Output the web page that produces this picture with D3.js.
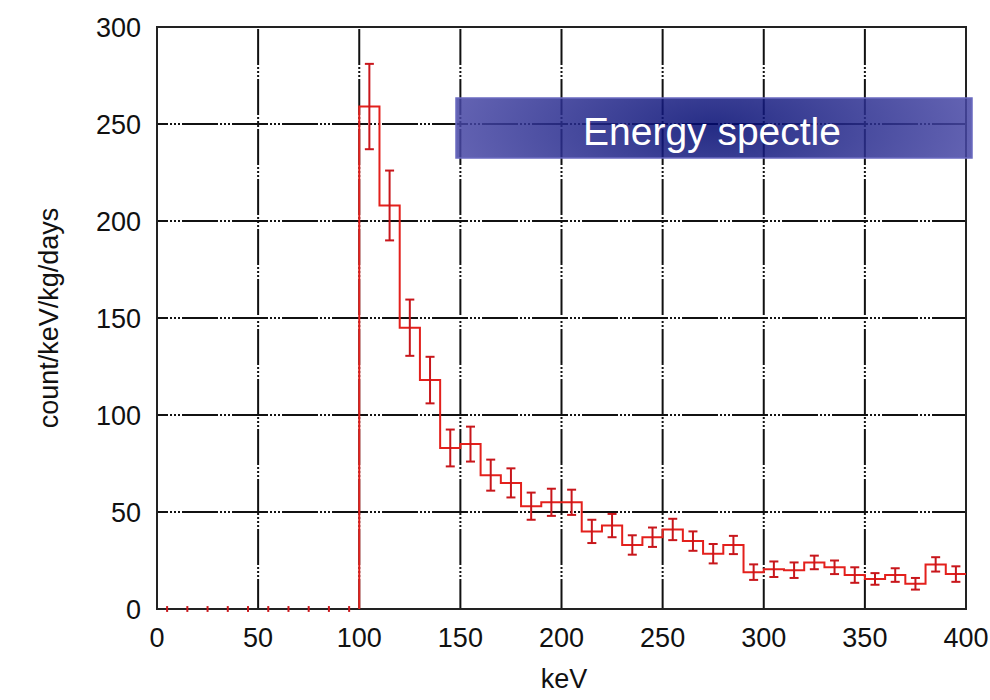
<!DOCTYPE html>
<meta charset="utf-8">
<script src="https://d3js.org/d3.v7.min.js"></script>
<style>
  body { margin: 0; background: #fff; }
  text { font-family: "Liberation Sans", Arial, sans-serif; }
</style>
<div id="my_dataviz"></div>
<script>

// bins of 10 keV (lower edge), counts and errors
var binLow = [0, 10, 20, 30, 40, 50, 60, 70, 80, 90,
              100, 110, 120, 130, 140, 150, 160, 170, 180, 190,
              200, 210, 220, 230, 240, 250, 260, 270, 280, 290,
              300, 310, 320, 330, 340, 350, 360, 370, 380, 390];
var counts = [0, 0, 0, 0, 0, 0, 0, 0, 0, 0,
              259, 208, 145, 118, 83, 85, 69, 65, 53, 55,
              55, 40, 43, 33, 37, 41, 35, 28.5, 33, 19,
              20.5, 20, 24, 21.5, 17.5, 15.5, 17.5, 13, 23, 18];
var errors = [1.5, 1.5, 1.5, 1.5, 1.5, 1.5, 1.5, 1.5, 1.5, 1.5,
              22, 18, 14.5, 12, 9.5, 9, 8, 7.5, 7, 7,
              6.5, 6, 6, 5, 5, 5.5, 5, 5, 4.7, 4,
              4, 4, 3.5, 3.5, 4, 3, 3.5, 3, 3.7, 4];
var binWidth = 10;

var xTicks = [0, 50, 100, 150, 200, 250, 300, 350, 400];
var yTicks = [0, 50, 100, 150, 200, 250, 300];
var titleText = "Energy spectle";

var width = 990, height = 700;
var svg = d3.select("#my_dataviz")
  .append("svg")
    .attr("width", width)
    .attr("height", height);

var x = d3.scaleLinear().domain([0, 400]).range([157, 966]);
var y = d3.scaleLinear().domain([0, 300]).range([609, 27]);

// gnuplot style grid: long dash + dotted piece
var dash = "36,2,2,2,2,2,2,2";
svg.append("g").selectAll("line")
  .data(xTicks.slice(1, -1))
  .enter().append("line")
    .attr("x1", function(d) { return x(d); })
    .attr("x2", function(d) { return x(d); })
    .attr("y1", y(300))
    .attr("y2", y(0))
    .attr("stroke", "#111")
    .attr("stroke-width", 2)
    .attr("stroke-dasharray", dash)
    .attr("stroke-dashoffset", -2);
svg.append("g").selectAll("line")
  .data(yTicks.slice(1, -1))
  .enter().append("line")
    .attr("x1", x(0))
    .attr("x2", x(400))
    .attr("y1", function(d) { return y(d); })
    .attr("y2", function(d) { return y(d); })
    .attr("stroke", "#111")
    .attr("stroke-width", 2)
    .attr("stroke-dasharray", dash)
    .attr("stroke-dashoffset", 25);

// frame
svg.append("rect")
  .attr("x", x(0)).attr("y", y(300))
  .attr("width", x(400) - x(0)).attr("height", y(0) - y(300))
  .attr("fill", "none")
  .attr("stroke", "#222")
  .attr("stroke-width", 2);

// tick labels
svg.append("g").selectAll("text")
  .data(xTicks)
  .enter().append("text")
    .attr("x", function(d) { return x(d); })
    .attr("y", 647)
    .attr("text-anchor", "middle")
    .style("font-size", "27px")
    .attr("fill", "#111")
    .text(function(d) { return d; });
svg.append("g").selectAll("text")
  .data(yTicks)
  .enter().append("text")
    .attr("x", 141)
    .attr("y", function(d) { return y(d); })
    .attr("dy", "0.36em")
    .attr("text-anchor", "end")
    .style("font-size", "27px")
    .attr("fill", "#111")
    .text(function(d) { return d; });

// axis titles
svg.append("text")
  .attr("x", 564).attr("y", 688)
  .attr("text-anchor", "middle")
  .style("font-size", "27px")
  .attr("fill", "#111")
  .text("keV");
svg.append("text")
  .attr("transform", "translate(58,318) rotate(-90)")
  .attr("text-anchor", "middle")
  .style("font-size", "27px")
  .attr("fill", "#111")
  .text("count/keV/kg/days");

// histogram steps (starting at the 100 keV threshold)
var bins = binLow.map(function(d, i) {
  return {lo: d, hi: d + binWidth, v: counts[i], e: errors[i]};
});
var stepPts = [];
bins.forEach(function(b, i) {
  if (b.v === 0) return;
  if (stepPts.length === 0) stepPts.push([b.lo, 0]);
  stepPts.push([b.lo, b.v]);
  stepPts.push([b.hi, b.v]);
});
svg.append("path")
  .datum(stepPts)
  .attr("d", d3.line()
    .x(function(d) { return x(d[0]); })
    .y(function(d) { return y(d[1]); }))
  .attr("fill", "none")
  .attr("stroke", "#e3201c")
  .attr("stroke-width", 2);

// error bars
var eb = svg.append("g")
  .attr("stroke", "#c8161b")
  .attr("stroke-width", 2);
bins.forEach(function(b) {
  var cx = x(b.lo + binWidth / 2);
  eb.append("line")
    .attr("x1", cx).attr("x2", cx)
    .attr("y1", y(b.v + b.e)).attr("y2", y(b.v - b.e));
  if (b.v > 0) {
    [b.v + b.e, b.v - b.e].forEach(function(yy) {
      eb.append("line")
        .attr("x1", cx - 4.5).attr("x2", cx + 4.5)
        .attr("y1", y(yy)).attr("y2", y(yy));
    });
  }
});

// title banner
var defs = svg.append("defs");
var grad = defs.append("radialGradient")
  .attr("id", "banner")
  .attr("cx", "50%").attr("cy", "50%")
  .attr("r", "50%")
  .attr("gradientTransform", "translate(0.5,0.5) scale(1,3.5) translate(-0.5,-0.5)");
grad.append("stop").attr("offset", "0%").attr("stop-color", "#000870");
grad.append("stop").attr("offset", "100%").attr("stop-color", "#4646a4");
svg.append("rect")
  .attr("x", 456).attr("y", 98)
  .attr("width", 516).attr("height", 60)
  .attr("fill", "url(#banner)")
  .attr("fill-opacity", 0.85)
  .attr("stroke", "#6a6ac0")
  .attr("stroke-width", 1.5);
svg.append("text")
  .attr("x", 712).attr("y", 145)
  .attr("text-anchor", "middle")
  .style("font-size", "39px")
  .attr("fill", "#fff")
  .text(titleText);

</script>
